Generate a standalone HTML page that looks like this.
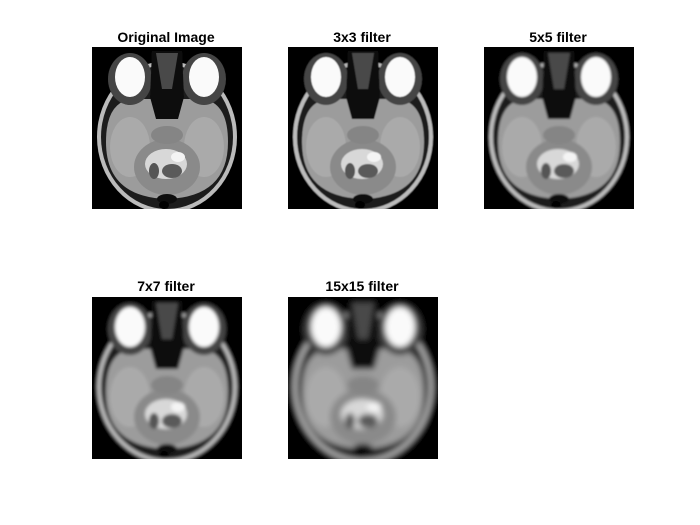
<!DOCTYPE html>
<html><head><meta charset="utf-8"><style>
html,body{margin:0;padding:0;background:#fff;width:700px;height:525px;overflow:hidden}
text{font-family:"Liberation Sans",sans-serif;font-weight:bold;font-size:14px;fill:#000}
</style></head><body>
<svg width="700" height="525" xmlns="http://www.w3.org/2000/svg">
<defs>
<filter id="b1"><feGaussianBlur stdDeviation="0.3"/></filter>
<filter id="b2"><feGaussianBlur stdDeviation="0.6"/></filter>
<filter id="b3"><feGaussianBlur stdDeviation="1"/></filter>
<filter id="b4"><feGaussianBlur stdDeviation="1.5"/></filter>
<filter id="b5"><feGaussianBlur stdDeviation="3"/></filter>
<g id="brain">
<rect x="-20" y="-20" width="190" height="202" fill="#060606"/>
<ellipse cx="75" cy="90" rx="70" ry="76" fill="#bbb"/>
<ellipse cx="75" cy="90" rx="66" ry="72" fill="#1e1e1e"/>
<path d="M14 95 Q14 55 40 52 L110 52 Q136 55 136 95 Q136 150 75 152 Q14 150 14 95 Z" fill="#9c9c9c"/>
<ellipse cx="38" cy="100" rx="20" ry="30" fill="#aaa"/>
<ellipse cx="112" cy="100" rx="20" ry="30" fill="#aaa"/>
<ellipse cx="38" cy="32" rx="22" ry="26" fill="#444"/>
<ellipse cx="112" cy="32" rx="22" ry="26" fill="#444"/>
<ellipse cx="38" cy="30" rx="15" ry="20" fill="#fafafa"/>
<ellipse cx="112" cy="30" rx="15" ry="20" fill="#fafafa"/>
<path d="M60 4 L90 4 L92 50 L86 72 L64 72 L58 50 Z" fill="#111"/>
<path d="M64 6 L86 6 L80 42 L70 42 Z" fill="#4a4a4a"/>
<ellipse cx="75" cy="120" rx="33" ry="28" fill="#8a8a8a"/>
<ellipse cx="74" cy="117" rx="21" ry="15" fill="#d8d8d8"/>
<ellipse cx="80" cy="124" rx="10" ry="7" fill="#5a5a5a"/>
<ellipse cx="62" cy="124" rx="5" ry="8" fill="#555"/>
<ellipse cx="86" cy="110" rx="7" ry="5" fill="#f4f4f4"/>
<ellipse cx="75" cy="88" rx="16" ry="9" fill="#858585"/>
<ellipse cx="75" cy="152" rx="10" ry="5" fill="#111"/>
<ellipse cx="72" cy="158" rx="5" ry="4" fill="#000"/>
</g>
</defs>
<g>
<text x="166" y="42" text-anchor="middle">Original Image</text>
<svg x="92" y="47" width="150" height="162" overflow="hidden"><use href="#brain" filter="url(#b1)"/></svg>
</g>
<g>
<text x="362" y="42" text-anchor="middle">3x3 filter</text>
<svg x="288" y="47" width="150" height="162" overflow="hidden"><use href="#brain" filter="url(#b2)"/></svg>
</g>
<g>
<text x="558" y="42" text-anchor="middle">5x5 filter</text>
<svg x="484" y="47" width="150" height="162" overflow="hidden"><use href="#brain" filter="url(#b3)"/></svg>
</g>
<g>
<text x="166" y="291" text-anchor="middle">7x7 filter</text>
<svg x="92" y="297" width="150" height="162" overflow="hidden"><use href="#brain" filter="url(#b4)"/></svg>
</g>
<g>
<text x="362" y="291" text-anchor="middle">15x15 filter</text>
<svg x="288" y="297" width="150" height="162" overflow="hidden"><use href="#brain" filter="url(#b5)"/></svg>
</g>
</svg>
</body></html>
